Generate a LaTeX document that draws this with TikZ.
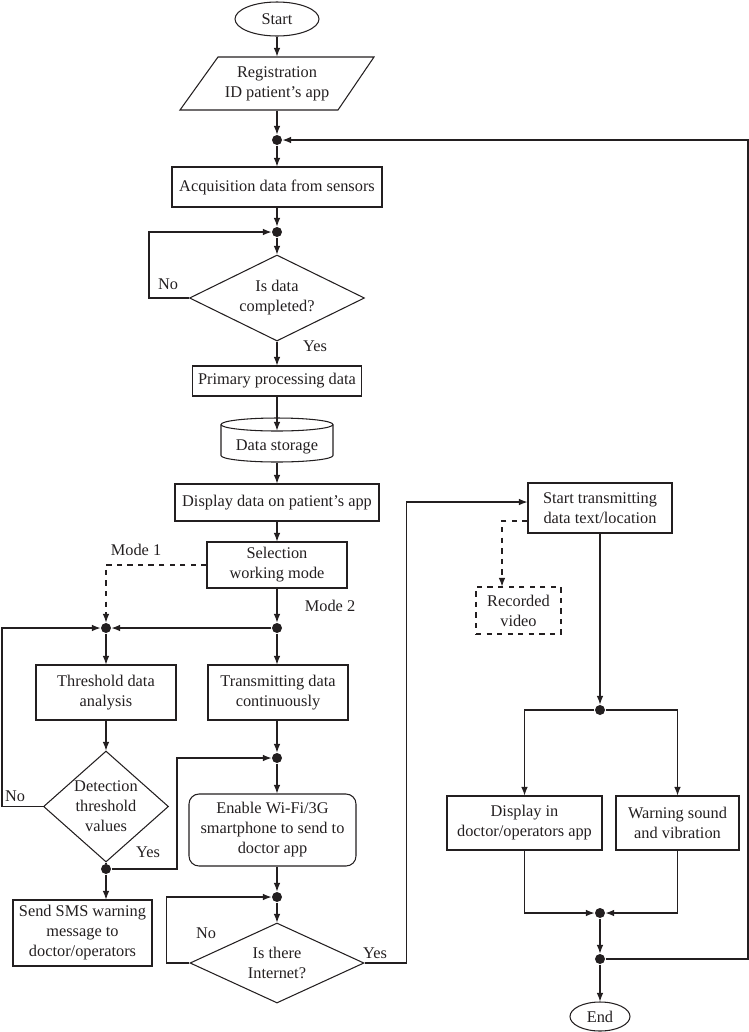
\documentclass[tikz,border=0pt]{standalone}
\usepackage{fontspec}
\setmainfont{Liberation Serif}
\usetikzlibrary{shapes.geometric,arrows.meta}
\definecolor{fcink}{RGB}{35,31,32}

\begin{document}
\begin{tikzpicture}[x=0.02cm,y=-0.02cm,line width=0.6pt,color=fcink,
  font=\fontsize{9.3}{11.4}\selectfont,
  wh/.style 2 args={minimum width=#1*0.02cm,minimum height=#2*0.02cm},
  box/.style={draw,rectangle,inner sep=0pt,align=center},
  term/.style={draw,ellipse,inner sep=0pt},
  dec/.style={draw,diamond,inner sep=-6pt,align=center},
  dot/.style={circle,fill=fcink,inner sep=0pt,minimum size=0.2cm},
  arr/.style={-{Latex[length=1.7mm,width=1.3mm]}},
  lbl/.style={inner sep=0pt}]
  \useasboundingbox (0,0) rectangle (749,1032);

  \node[term,wh={84}{34}] (start) at (277,19) {Start};
  \node[wh={120}{53},inner sep=0pt,align=center] (reg) at (277,83.5) {Registration\\ID patient’s app};
  \draw (180,110) -- (218,57) -- (374,57) -- (338,110) -- cycle;
  \node[dot] (j1) at (277,140) {};
  \node[box,wh={210}{40}] (acq) at (277,187) {Acquisition data from sensors};
  \node[dot] (j2) at (277,232) {};
  \node[dec,wh={175}{86},aspect=2.03] (q1) at (277,298) {Is data\\completed?};
  \node[box,wh={169}{30}] (prim) at (277,381) {Primary processing data};
  \node[wh={112}{31},inner sep=0pt] (store) at (277,446.5) {Data storage};
  \draw (221,424.5) -- (221,455.5) arc[start angle=180,end angle=360,x radius=1.12cm,y radius=0.13cm] -- (333,424.5);
  \draw (277,424.5) ellipse[x radius=1.12cm,y radius=0.13cm];
  \node[box,wh={204}{37}] (disp) at (277,502.5) {Display data on patient’s app};
  \node[box,wh={140}{46}] (sel) at (277,565) {Selection\\working mode};
  \node[dot] (j3) at (106,628) {};
  \node[dot] (j4) at (277,628) {};
  \node[box,wh={140}{55}] (thr) at (106,692.5) {Threshold data\\analysis};
  \node[box,wh={140}{55}] (trans) at (278,692.5) {Transmitting data\\continuously};
  \node[dec,wh={125}{111},aspect=1.13] (q2) at (106,806.5) {Detection\\threshold\\values};
  \node[dot] (j5) at (106,869) {};
  \node[box,wh={139}{66}] (sms) at (82.5,933) {Send SMS warning\\message to\\doctor/operators};
  \node[dot] (j6) at (277,758) {};
  \node[box,rounded corners=0.2cm,wh={167}{72}] (wifi) at (272.5,830) {Enable Wi-Fi/3G\\smartphone to send to\\doctor app};
  \node[dot] (j7) at (277,897) {};
  \node[dec,wh={174}{80},aspect=2.2] (q3) at (277,963) {Is there\\Internet?};
  \node[box,wh={144}{50}] (stx) at (600,508) {Start transmitting\\data text/location};
  \node[box,dashed,wh={85}{47}] (rec) at (518.5,610.5) {Recorded\\video};
  \node[dot] (j8) at (600,710) {};
  \node[box,wh={155}{54}] (disp2) at (524.5,823) {Display in\\doctor/operators app};
  \node[box,wh={123}{54}] (warn) at (677.5,823) {Warning sound\\and vibration};
  \node[dot] (j9) at (600,913) {};
  \node[dot] (j10) at (600,959) {};
  \node[term,wh={60}{29}] (end) at (600,1016.5) {End};

  \node[lbl] (no1) at (168,284) {No};
  \node[lbl] (yes1) at (315,346) {Yes};
  \node[lbl] (mode1) at (136,550) {Mode 1};
  \node[lbl] (mode2) at (330,606) {Mode 2};
  \node[lbl] (no2) at (15,796) {No};
  \node[lbl] (yes2) at (148,852) {Yes};
  \node[lbl] (no3) at (206,933) {No};
  \node[lbl] (yes3) at (375,953) {Yes};

  \draw[arr] (start) -- (reg);
  \draw[arr] (reg) -- (j1);
  \draw[arr] (j1) -- (acq);
  \draw[arr] (acq) -- (j2);
  \draw[arr] (j2) -- (q1);
  \draw[arr] (q1.west) -- ++(-40,0) |- (j2);
  \draw[arr] (q1) -- (prim);
  \draw[arr] (prim) -- (store);
  \draw[arr] (store) -- (disp);
  \draw[arr] (disp) -- (sel);
  \draw[arr,dashed] (sel.west) -| (j3);
  \draw[arr] (sel) -- (j4);
  \draw[arr] (j4) -- (j3);
  \draw[arr] (j3) -- (thr);
  \draw[arr] (j4) -- (j4 |- trans.north);
  \draw[arr] (thr) -- (q2);
  \draw[arr] (q2.west) -- ++(-41,0) |- (j3);
  \draw (q2) -- (j5);
  \draw[arr] (j5) -- (j5 |- sms.north);
  \draw[arr] (j5) -- ++(71,0) |- (j6);
  \draw[arr] (j6 |- trans.south) -- (j6);
  \draw[arr] (j6) -- (j6 |- wifi.north);
  \draw[arr] (j6 |- wifi.south) -- (j7);
  \draw[arr] (j7) -- (q3);
  \draw[arr] (q3.west) -- ++(-23,0) |- (j7);
  \draw[arr] (q3.east) -- ++(42,0) |- ([yshift=0.12cm]stx.west);
  \draw[arr,dashed] ([yshift=-0.26cm]stx.west) -| ([xshift=-0.33cm]rec.north);
  \draw[arr] (stx) -- (j8);
  \draw[arr] (j8) -| (disp2);
  \draw[arr] (j8) -| (warn);
  \draw[arr] (disp2) |- (j9);
  \draw[arr] (warn) |- (j9);
  \draw[arr] (j9) -- (j10);
  \draw[arr] (j10) -- ++(148,0) |- (j1);
  \draw[arr] (j10) -- (end);
\end{tikzpicture}
\end{document}
